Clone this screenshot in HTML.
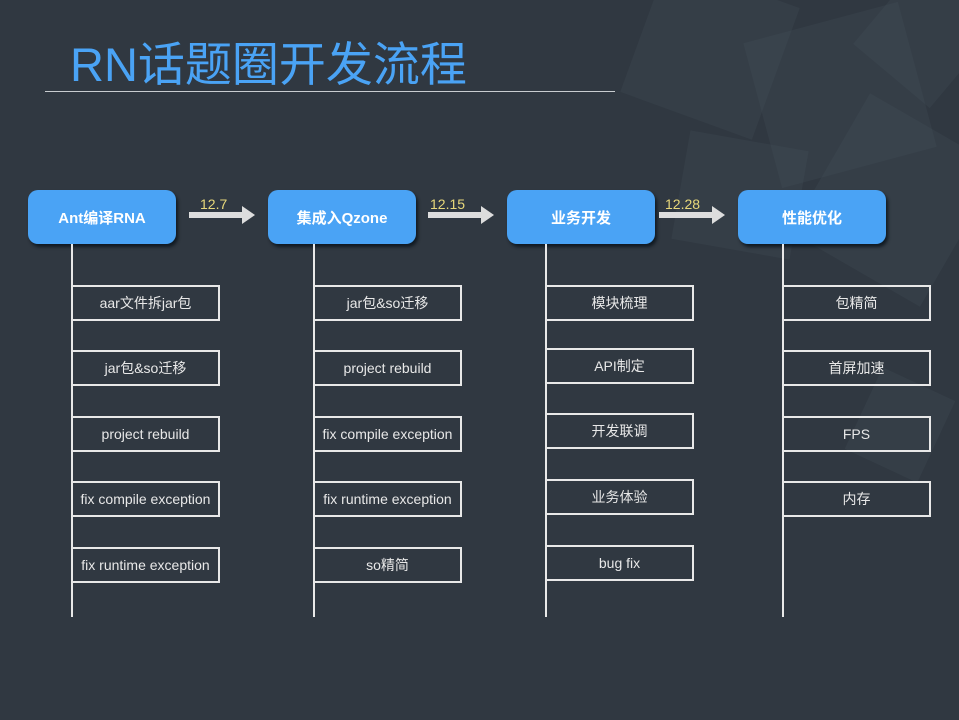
<!DOCTYPE html>
<html><head><meta charset="utf-8"><style>
body{margin:0;width:959px;height:720px;overflow:hidden;background:#303841;font-family:"Liberation Sans","Noto Sans CJK SC",sans-serif;position:relative}
.deco{position:absolute;background:#4a5560;opacity:.22}
.t{position:absolute;left:70px;top:26px;font-size:47px;color:#4aa3f5;letter-spacing:0px}
.hl{position:absolute;left:45px;top:91px;width:570px;height:1px;background:#c8ccd0}
.n{position:absolute;top:190px;width:148px;height:54px;border-radius:10px;background:#4aa3f5;color:#fff;font-weight:bold;font-size:15px;display:flex;align-items:center;justify-content:center;box-shadow:2px 3px 3px #111a22}
.v{position:absolute;top:244px;width:2px;height:373px;background:#e8e8e8}
.b{position:absolute;width:145px;height:32px;border:2px solid #e8e8e8;border-left:none;color:#e8e8e8;font-size:14px;display:flex;align-items:center;justify-content:center;white-space:nowrap}
.a{position:absolute;top:212px;height:6px;background:#ddd}
.a:after{content:"";position:absolute;right:-12px;top:-6px;border-left:13px solid #ddd;border-top:9px solid transparent;border-bottom:9px solid transparent}
.l{position:absolute;top:196px;color:#e8d87a;font-size:14px}
</style></head><body>
<div class="deco" style="left:640px;top:-20px;width:140px;height:140px;transform:rotate(20deg)"></div>
<div class="deco" style="left:760px;top:20px;width:160px;height:150px;transform:rotate(-15deg)"></div>
<div class="deco" style="left:820px;top:120px;width:150px;height:160px;transform:rotate(30deg)"></div>
<div class="deco" style="left:680px;top:140px;width:120px;height:110px;transform:rotate(10deg)"></div>
<div class="deco" style="left:880px;top:-30px;width:100px;height:120px;transform:rotate(40deg)"></div>
<div class="deco" style="left:860px;top:380px;width:80px;height:90px;transform:rotate(25deg)"></div>
<div class="t">RN话题圈开发流程</div><div class="hl"></div>

<div class="n" style="left:28px">Ant编译RNA</div>
<div class="n" style="left:268px">集成入Qzone</div>
<div class="n" style="left:507px">业务开发</div>
<div class="n" style="left:738px">性能优化</div>

<div class="a" style="left:189px;width:54px"></div><div class="l" style="left:200px">12.7</div>
<div class="a" style="left:428px;width:54px"></div><div class="l" style="left:430px">12.15</div>
<div class="a" style="left:659px;width:54px"></div><div class="l" style="left:665px">12.28</div>

<div class="v" style="left:71px"></div>
<div class="v" style="left:313px"></div>
<div class="v" style="left:545px"></div>
<div class="v" style="left:782px"></div>

<div class="b" style="left:73px;top:285px">aar文件拆jar包</div>
<div class="b" style="left:73px;top:350px">jar包&amp;so迁移</div>
<div class="b" style="left:73px;top:416px">project rebuild</div>
<div class="b" style="left:73px;top:481px">fix compile exception</div>
<div class="b" style="left:73px;top:547px">fix runtime exception</div>

<div class="b" style="left:315px;top:285px">jar包&amp;so迁移</div>
<div class="b" style="left:315px;top:350px">project rebuild</div>
<div class="b" style="left:315px;top:416px">fix compile exception</div>
<div class="b" style="left:315px;top:481px">fix runtime exception</div>
<div class="b" style="left:315px;top:547px">so精简</div>

<div class="b" style="left:547px;top:285px">模块梳理</div>
<div class="b" style="left:547px;top:348px">API制定</div>
<div class="b" style="left:547px;top:413px">开发联调</div>
<div class="b" style="left:547px;top:479px">业务体验</div>
<div class="b" style="left:547px;top:545px">bug fix</div>

<div class="b" style="left:784px;top:285px">包精简</div>
<div class="b" style="left:784px;top:350px">首屏加速</div>
<div class="b" style="left:784px;top:416px">FPS</div>
<div class="b" style="left:784px;top:481px">内存</div>
</body></html>
